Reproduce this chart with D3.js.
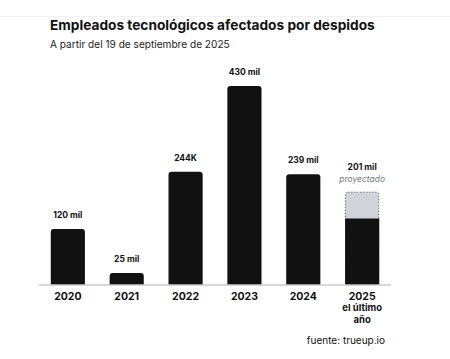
<!DOCTYPE html>
<html>
<head>
<meta charset="utf-8">
<script src="https://cdn.jsdelivr.net/npm/d3@7"></script>
<style>
	body { margin: 0; background: #fff; }
	svg { display: block; font-family: Inter, "Noto Sans", sans-serif; }
</style>
</head>
<body>
<div id="chart"></div>
<script>
'use strict';

// data
const years = ["2020", "2021", "2022", "2023", "2024", "2025"];
const affected = [120, 25, 244, 430, 239, 143];   // miles de empleados
const projected = [null, null, null, null, null, 201];
const valueLabels = ["120 mil", "25 mil", "244K", "430 mil", "239 mil", "201 mil"];
const subLabels = [[], [], [], [], [], ["el último", "año"]];

const width = 450, height = 359;

const svg = d3.select("#chart")
	.append("svg")
		.attr("width", width)
		.attr("height", height);

// faint rule at the top of the card
svg.append("line")
	.attr("x1", 0).attr("x2", width)
	.attr("y1", 16.5).attr("y2", 16.5)
	.attr("stroke", "#f1f1f1");

svg.append("text")
	.attr("x", 50).attr("y", 29.5)
	.attr("font-size", 13.7)
	.attr("font-weight", 700)
	.attr("fill", "#111")
	.text("Empleados tecnológicos afectados por despidos");

svg.append("text")
	.attr("x", 50).attr("y", 47.5)
	.attr("font-size", 10.1)
	.attr("fill", "#222")
	.text("A partir del 19 de septiembre de 2025");

const xScale = d3.scaleBand()
	.domain(years)
	.range([39, 391])
	.paddingInner(0.42)
	.paddingOuter(0.2);

const yScale = d3.scaleLinear()
	.domain([0, 430])
	.range([284.5, 86]);

const bw = xScale.bandwidth();

// projected part (behind)
svg.append("g")
	.selectAll("rect")
	.data(years.filter((d, i) => projected[i] != null))
	.join("rect")
		.attr("x", d => xScale(d) + 0.5)
		.attr("y", d => yScale(projected[years.indexOf(d)]) + 0.5)
		.attr("width", bw - 1)
		.attr("height", d => yScale(0) - yScale(projected[years.indexOf(d)]) - 1)
		.attr("rx", 2.5)
		.attr("fill", "#d1d4d9")
		.attr("stroke", "#6e6e6e")
		.attr("stroke-width", 1)
		.attr("stroke-dasharray", "1.5,1.5");

// bars, rounded top corners only
const barPath = (x, y0, y1, w, r) =>
	`M${x},${y0}V${y1 + r}Q${x},${y1} ${x + r},${y1}H${x + w - r}Q${x + w},${y1} ${x + w},${y1 + r}V${y0}Z`;

svg.append("g")
	.selectAll("path")
	.data(years)
	.join("path")
		.attr("d", (d, i) => barPath(xScale(d), yScale(0), yScale(affected[i]), bw,
			projected[i] != null ? 0 : 3))
		.attr("fill", "#111");

// baseline
svg.append("line")
	.attr("x1", 39).attr("x2", 391)
	.attr("y1", yScale(0) + 0.5).attr("y2", yScale(0) + 0.5)
	.attr("stroke", "#b0b0b0");

// value labels
const topOf = i => yScale(projected[i] != null ? projected[i] : affected[i]);

svg.append("g")
	.selectAll("text")
	.data(years)
	.join("text")
		.attr("x", d => xScale(d) + bw / 2)
		.attr("y", (d, i) => topOf(i) - (projected[i] != null ? 22 : 11))
		.attr("text-anchor", "middle")
		.attr("font-size", 8.5)
		.attr("font-weight", 700)
		.attr("fill", "#111")
		.text((d, i) => valueLabels[i]);

svg.append("g")
	.selectAll("text")
	.data(years.filter((d, i) => projected[i] != null))
	.join("text")
		.attr("x", d => xScale(d) + bw / 2)
		.attr("y", d => topOf(years.indexOf(d)) - 10)
		.attr("text-anchor", "middle")
		.attr("font-size", 8.5)
		.attr("font-style", "italic")
		.attr("fill", "#777")
		.text("proyectado");

// x axis labels
const xAxis = d3.axisBottom(xScale).tickSize(0).tickPadding(8);
const gx = svg.append("g")
	.attr("transform", `translate(0,${yScale(0)})`)
	.call(xAxis);
gx.select(".domain").remove();
gx.selectAll(".tick text")
	.attr("font-family", "Inter, sans-serif")
	.attr("font-size", 10.5)
	.attr("font-weight", 700)
	.attr("fill", "#111");

gx.selectAll(".tick")
	.each(function (d) {
		const lines = subLabels[years.indexOf(d)];
		d3.select(this).selectAll("text.sub")
			.data(lines)
			.join("text")
				.attr("class", "sub")
				.attr("y", (l, j) => 26.5 + j * 12)
				.attr("text-anchor", "middle")
				.attr("font-family", "Inter, sans-serif")
				.attr("font-size", 9.5)
				.attr("font-weight", 700)
				.attr("fill", "#111")
				.text(l => l);
	});

svg.append("text")
	.attr("x", 385).attr("y", 343.5)
	.attr("text-anchor", "end")
	.attr("font-size", 10)
	.attr("fill", "#111")
	.text("fuente: trueup.io");
</script>
</body>
</html>
